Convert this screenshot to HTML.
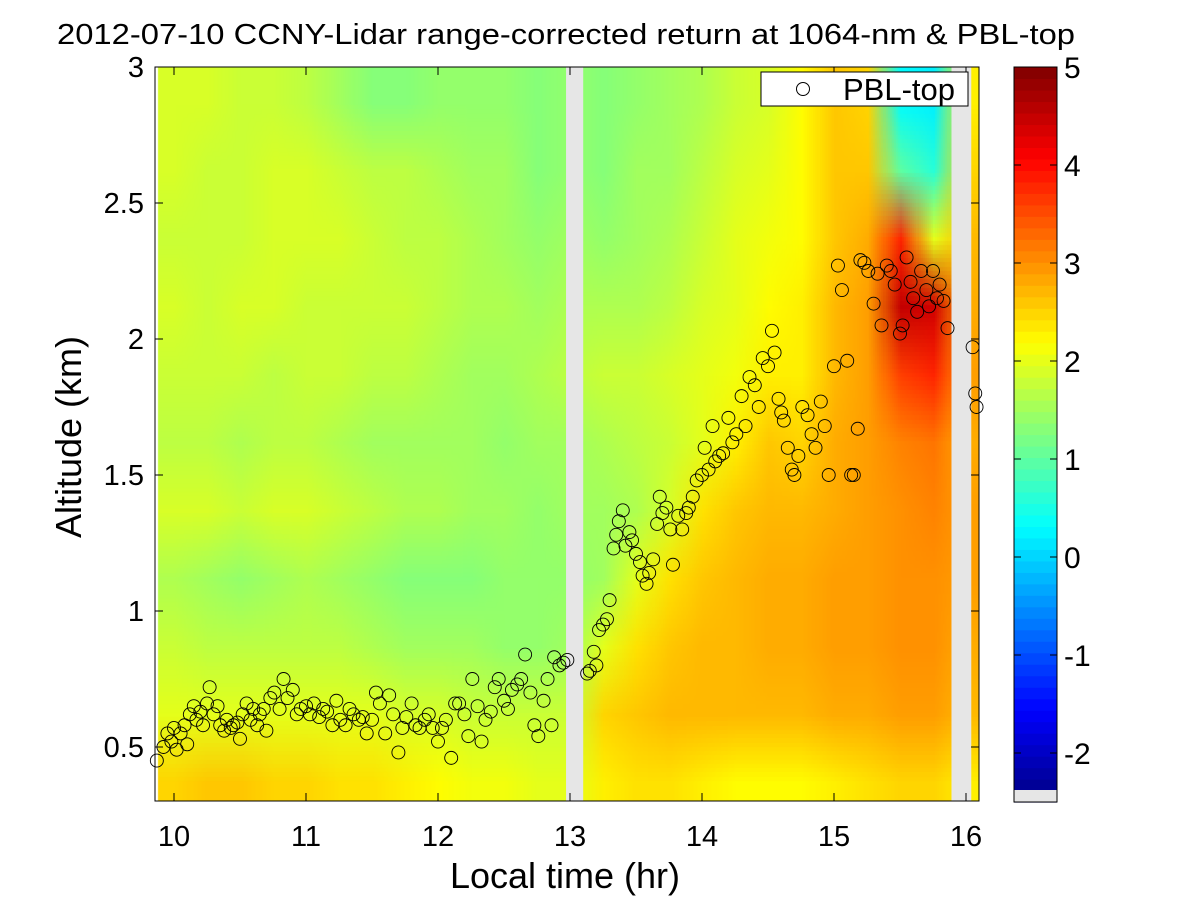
<!DOCTYPE html>
<html><head><meta charset="utf-8">
<style>
html,body{margin:0;padding:0;background:#fff;}
body{width:1201px;height:901px;overflow:hidden;position:relative;font-family:"Liberation Sans",sans-serif;}
svg text{font-family:"Liberation Sans",sans-serif;fill:#000;}
</style></head>
<body>
<svg id="chart" width="1201" height="901" xmlns="http://www.w3.org/2000/svg">
  <rect x="0" y="0" width="1201" height="901" fill="#fff"/>
  <text x="57" y="44" font-size="29" textLength="1018" lengthAdjust="spacingAndGlyphs">2012-07-10 CCNY-Lidar range-corrected return at 1064-nm &amp; PBL-top</text>
  <foreignObject x="155" y="67" width="824" height="734">
    <canvas id="hm" width="824" height="734" xmlns="http://www.w3.org/1999/xhtml" style="display:block"></canvas>
  </foreignObject>
  <g id="gaps"></g>
  <g id="points"></g>
  <g id="axes"></g>
  <text x="565" y="888" font-size="36" text-anchor="middle">Local time (hr)</text>
  <text transform="translate(81,437) rotate(-90)" font-size="36" text-anchor="middle">Altitude (km)</text>
  <g>
    <rect x="761" y="72" width="207" height="34" fill="#fff" stroke="#000" stroke-width="1"/>
    <circle cx="803" cy="89" r="6.5" fill="none" stroke="#000" stroke-width="1"/>
    <text x="843" y="100" font-size="31">PBL-top</text>
  </g>
  <g id="cbar"></g>
</svg>
<script>
// ---- data ----
const times = [10.0,10.25,10.5,10.75,11.0,11.25,11.5,11.75,12.0,12.25,12.5,12.75,13.0,13.25,13.5,13.75,14.0,14.25,14.5,14.75,15.0,15.25,15.5,15.75,16.0];
const alts = [0.375,0.625,0.875,1.125,1.375,1.625,1.875,2.125,2.375,2.625,2.875];
const grid = [
 [2.5,2.0,1.8,1.6,1.9,1.7,1.8,1.9,1.8,1.9,1.9],
 [2.6,2.0,1.7,1.5,1.9,1.7,1.8,1.8,1.8,1.8,1.9],
 [2.6,2.0,1.7,1.4,1.8,1.6,1.8,1.9,1.8,1.8,1.8],
 [2.5,2.0,1.7,1.5,1.9,1.7,1.7,1.9,1.9,1.9,1.8],
 [2.5,2.0,1.7,1.6,1.9,1.7,1.8,1.8,1.9,1.9,1.7],
 [2.4,2.0,1.7,1.5,1.8,1.6,1.8,1.8,1.9,1.8,1.5],
 [2.4,2.0,1.6,1.4,1.7,1.5,1.7,1.8,1.8,1.7,1.3],
 [2.3,1.9,1.5,1.3,1.6,1.5,1.7,1.8,1.7,1.7,1.3],
 [2.2,1.9,1.5,1.3,1.6,1.5,1.6,1.7,1.7,1.6,1.4],
 [2.1,1.8,1.5,1.3,1.5,1.5,1.5,1.6,1.6,1.5,1.4],
 [2.1,1.8,1.4,1.4,1.5,1.4,1.5,1.6,1.5,1.5,1.4],
 [2.0,1.8,1.4,1.4,1.4,1.5,1.6,1.5,1.4,1.3,1.3],
 [2.0,1.8,1.5,1.4,1.5,1.5,1.7,1.6,1.5,1.4,1.4],
 [2.3,2.5,2.0,1.5,1.5,1.6,1.8,1.6,1.4,1.3,1.3],
 [2.4,2.6,2.4,2.0,1.6,1.7,1.8,1.6,1.5,1.5,1.4],
 [2.4,2.7,2.6,2.4,1.9,1.8,1.9,1.7,1.6,1.5,1.5],
 [2.3,2.7,2.7,2.6,2.4,2.0,2.0,1.9,1.8,1.7,1.6],
 [2.2,2.7,2.7,2.7,2.6,2.3,2.1,2.0,2.0,1.9,1.8],
 [2.2,2.7,2.8,2.8,2.7,2.6,2.3,2.2,2.1,2.0,1.9],
 [2.2,2.7,2.8,2.8,2.7,2.5,2.3,2.3,2.2,2.2,2.2],
 [2.3,2.8,2.9,2.9,2.8,2.8,2.7,2.7,2.6,2.6,2.6],
 [2.4,2.8,2.9,2.9,2.9,2.9,2.9,2.9,2.8,2.6,2.5],
 [2.5,2.9,3.0,3.0,3.0,3.1,3.6,4.5,3.8,1.0,0.3],
 [2.5,2.9,3.0,3.0,3.1,3.2,3.8,4.4,2.0,0.6,0.2],
 [2.3,2.7,2.8,2.9,2.9,2.8,2.9,2.8,2.7,2.5,2.3]
];
const gapStarts = [12.97, 15.89];
const gapEnds = [13.10, 16.04];
const pblTimes = [9.87,9.92,9.95,9.98,10.0,10.02,10.05,10.08,10.1,10.12,10.15,10.17,10.2,10.22,10.25,10.27,10.3,10.33,10.35,10.38,10.4,10.43,10.45,10.48,10.5,10.52,10.55,10.58,10.6,10.63,10.65,10.68,10.7,10.73,10.76,10.8,10.83,10.86,10.9,10.93,10.96,11.0,11.03,11.06,11.1,11.13,11.16,11.2,11.23,11.26,11.3,11.33,11.36,11.4,11.43,11.46,11.5,11.53,11.56,11.6,11.63,11.66,11.7,11.73,11.76,11.8,11.83,11.86,11.9,11.93,11.96,12.0,12.03,12.06,12.1,12.13,12.16,12.2,12.23,12.26,12.3,12.33,12.36,12.4,12.43,12.46,12.5,12.53,12.56,12.6,12.63,12.66,12.7,12.73,12.76,12.8,12.83,12.86,12.88,12.92,12.95,12.98,13.13,13.15,13.18,13.2,13.22,13.25,13.28,13.3,13.33,13.35,13.37,13.4,13.42,13.45,13.47,13.5,13.53,13.55,13.58,13.6,13.63,13.66,13.68,13.7,13.73,13.76,13.78,13.82,13.85,13.88,13.9,13.93,13.96,14.0,14.02,14.05,14.08,14.1,14.13,14.16,14.2,14.23,14.26,14.3,14.33,14.36,14.4,14.43,14.46,14.5,14.53,14.55,14.58,14.6,14.62,14.65,14.68,14.7,14.73,14.76,14.8,14.83,14.86,14.9,14.93,14.96,15.0,15.03,15.06,15.1,15.13,15.15,15.18,15.2,15.23,15.26,15.3,15.33,15.36,15.4,15.43,15.46,15.5,15.52,15.55,15.58,15.6,15.63,15.66,15.7,15.72,15.75,15.78,15.8,15.83,15.86,16.05,16.07,16.08];
const pblAlts = [0.45,0.50,0.55,0.52,0.57,0.49,0.55,0.58,0.51,0.62,0.65,0.60,0.63,0.58,0.66,0.72,0.62,0.65,0.58,0.56,0.60,0.57,0.58,0.59,0.53,0.62,0.66,0.60,0.64,0.58,0.62,0.64,0.56,0.68,0.70,0.64,0.75,0.68,0.71,0.62,0.64,0.65,0.62,0.66,0.61,0.64,0.63,0.58,0.67,0.60,0.58,0.64,0.62,0.60,0.61,0.55,0.60,0.70,0.66,0.55,0.69,0.62,0.48,0.57,0.61,0.66,0.58,0.57,0.60,0.62,0.57,0.52,0.57,0.60,0.46,0.66,0.66,0.62,0.54,0.75,0.65,0.52,0.60,0.63,0.72,0.75,0.67,0.64,0.71,0.73,0.75,0.84,0.70,0.58,0.54,0.67,0.75,0.58,0.83,0.80,0.81,0.82,0.77,0.78,0.85,0.80,0.93,0.95,0.97,1.04,1.23,1.28,1.33,1.37,1.24,1.29,1.26,1.21,1.18,1.13,1.10,1.14,1.19,1.32,1.42,1.36,1.38,1.30,1.17,1.35,1.30,1.36,1.38,1.42,1.48,1.50,1.60,1.52,1.68,1.55,1.57,1.58,1.71,1.62,1.65,1.79,1.68,1.86,1.83,1.75,1.93,1.90,2.03,1.95,1.78,1.73,1.70,1.60,1.52,1.50,1.57,1.75,1.72,1.65,1.60,1.77,1.68,1.50,1.90,2.27,2.18,1.92,1.50,1.50,1.67,2.29,2.28,2.25,2.13,2.24,2.05,2.27,2.25,2.20,2.02,2.05,2.30,2.21,2.15,2.10,2.25,2.18,2.12,2.25,2.15,2.20,2.14,2.04,1.97,1.80,1.75];
const xTicks = [10,11,12,13,14,15,16];
const yTicks = [0.5,1,1.5,2,2.5,3];
const yTickLabels = ["0.5","1","1.5","2","2.5","3"];
const cTicks = [-2,-1,0,1,2,3,4,5];
const cTickLabels = ["-2","-1","0","1","2","3","4","5"];

// ---- geometry ----
const PL=155, PR=979, PT=67, PB=801;
const x = t => 174 + (t-10)*132;
const y = a => 67 + (3-a)*272;
const cMin=-2.5, cMax=5, CBX=1014, CBW=43;
const cy = v => 67 + (cMax - v)*98;
const NS="http://www.w3.org/2000/svg";
function jet(v){
  let n=(v-cMin)/(cMax-cMin); n=Math.max(0,Math.min(1,n));
  const c=z=>Math.round(255*Math.max(0,Math.min(1,1.5-Math.abs(4*n-z))));
  return [c(3),c(2),c(1)];
}
function mk(tag,attrs,parent){const e=document.createElementNS(NS,tag);for(const k in attrs)e.setAttribute(k,attrs[k]);parent.appendChild(e);return e;}

// ---- heatmap ----
const small=document.createElement('canvas');
small.width=times.length; small.height=alts.length;
const sctx=small.getContext('2d');
const img=sctx.createImageData(times.length,alts.length);
for(let i=0;i<times.length;i++){for(let j=0;j<alts.length;j++){
  const [r,g,b]=jet(grid[i][j]); const row=alts.length-1-j; const k=(row*times.length+i)*4;
  img.data[k]=r;img.data[k+1]=g;img.data[k+2]=b;img.data[k+3]=255;}}
sctx.putImageData(img,0,0);
const hm=document.getElementById('hm');


const ctx=hm.getContext('2d');
ctx.imageSmoothingEnabled=true;
const dt=times[1]-times[0], da=alts[1]-alts[0];
const dx0=x(times[0]-dt/2)-PL, dx1=x(times[times.length-1]+dt/2)-PL;
const dy0=y(alts[alts.length-1]+da/2)-PT, dy1=y(alts[0]-da/2)-PT;
ctx.drawImage(small,dx0,dy0,dx1-dx0,dy1-dy0);

// gaps
const gG=document.getElementById('gaps');
for(let i=0;i<gapStarts.length;i++){
  const r=mk('rect',{x:x(gapStarts[i]),y:PT,width:x(gapEnds[i])-x(gapStarts[i]),height:PB-PT,fill:'#e6e6e6'},gG);
  
  
}

// points
const gP=document.getElementById('points');
for(let i=0;i<pblTimes.length;i++){
  const c=mk('circle',{cx:x(pblTimes[i]),cy:y(pblAlts[i]),r:6.5,fill:'none',stroke:'#000','stroke-width':0.9},gP);
  
  
}

// axes
const gA=document.getElementById('axes');
mk('rect',{x:PL,y:PT,width:PR-PL,height:PB-PT,fill:'none',stroke:'#000','stroke-width':1},gA);
xTicks.forEach(t=>{
  const X=x(t);
  mk('line',{x1:X,y1:PB,x2:X,y2:PB-8,stroke:'#000'},gA);
  mk('line',{x1:X,y1:PT,x2:X,y2:PT+8,stroke:'#000'},gA);
  const tx=mk('text',{x:X,y:PB+45,'font-size':29,'text-anchor':'middle'},gA);
  
  
  tx.textContent=String(t);
});
yTicks.forEach((a,i)=>{
  const Y=y(a);
  mk('line',{x1:PL,y1:Y,x2:PL+8,y2:Y,stroke:'#000'},gA);
  mk('line',{x1:PR,y1:Y,x2:PR-8,y2:Y,stroke:'#000'},gA);
  const tx=mk('text',{x:PL-11,y:Y+10,'font-size':29,'text-anchor':'end'},gA);
  
  
  tx.textContent=yTickLabels[i];
});

// colorbar
const gC=document.getElementById('cbar');


const steps=64;
for(let s=0;s<steps;s++){
  const v0=cMin+(cMax-cMin)*s/steps, v1=cMin+(cMax-cMin)*(s+1)/steps;
  const [r,g,b]=jet((v0+v1)/2);
  mk('rect',{x:CBX,y:cy(v1),width:CBW,height:cy(v0)-cy(v1)+0.6,fill:`rgb(${r},${g},${b})`},gC);
}
mk('rect',{x:CBX,y:790,width:CBW,height:cy(cMin)-790,fill:'#e6e6e6'},gC);
mk('rect',{x:CBX,y:cy(cMax),width:CBW,height:cy(cMin)-cy(cMax),fill:'none',stroke:'#000'},gC);
cTicks.forEach((v,i)=>{
  const Y=cy(v);
  mk('line',{x1:CBX,y1:Y,x2:CBX+7,y2:Y,stroke:'#000'},gC);
  mk('line',{x1:CBX+CBW,y1:Y,x2:CBX+CBW-7,y2:Y,stroke:'#000'},gC);
  const tx=mk('text',{x:CBX+CBW+7,y:Y+11,'font-size':30},gC);
  
  
  tx.textContent=cTickLabels[i];
});
</script>
</body></html>
